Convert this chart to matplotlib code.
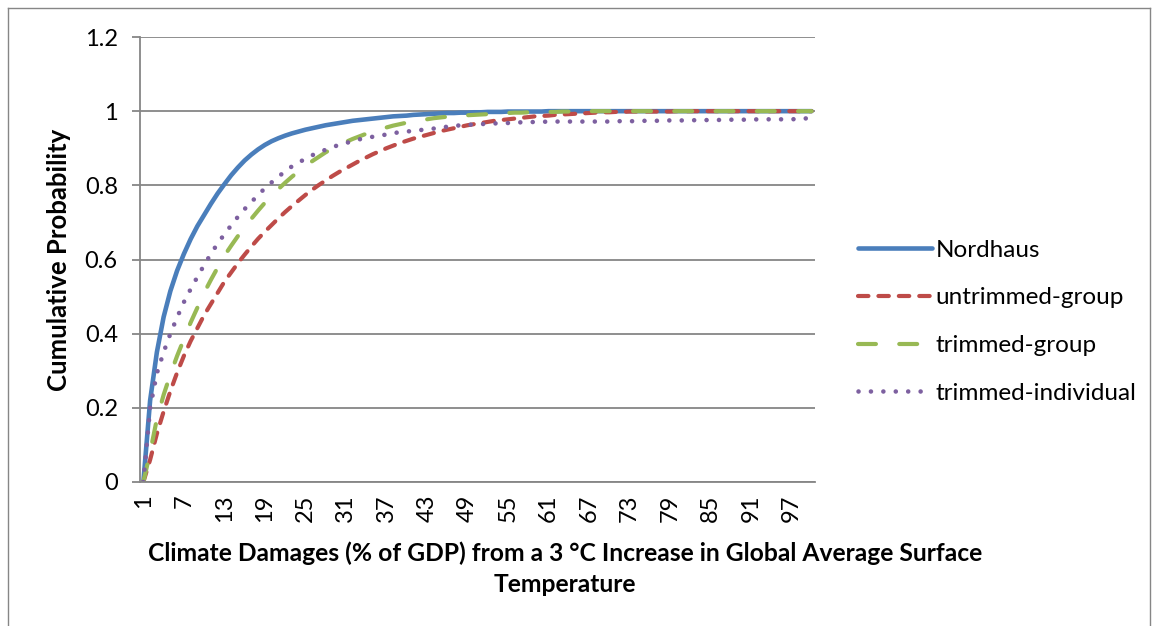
import matplotlib
matplotlib.use("Agg")
import matplotlib.pyplot as plt
from matplotlib.lines import Line2D

plt.rcParams["font.family"] = ["Lato", "DejaVu Sans"]

# Damage level categories (% of GDP)
categories = list(range(1, 101))

nordhaus = [
    0.0, 0.22, 0.35, 0.445, 0.515, 0.57, 0.615, 0.655, 0.69, 0.72,
    0.75, 0.778, 0.803, 0.827, 0.848, 0.867, 0.883, 0.897, 0.909, 0.919,
    0.927, 0.934, 0.940, 0.945, 0.950, 0.954, 0.958, 0.962, 0.965, 0.968,
    0.971, 0.974, 0.976, 0.978, 0.980, 0.982, 0.984, 0.986, 0.987, 0.988,
    0.990, 0.991, 0.992, 0.993, 0.994, 0.995, 0.995, 0.996, 0.996, 0.997,
    0.997, 0.998, 0.998, 0.998, 0.999, 0.999, 0.999, 0.999, 0.999, 0.999,
    1.0, 1.0, 1.0, 1.0, 1.0, 1.0, 1.0, 1.0, 1.0, 1.0,
    1.0, 1.0, 1.0, 1.0, 1.0, 1.0, 1.0, 1.0, 1.0, 1.0,
    1.0, 1.0, 1.0, 1.0, 1.0, 1.0, 1.0, 1.0, 1.0, 1.0,
    1.0, 1.0, 1.0, 1.0, 1.0, 1.0, 1.0, 1.0, 1.0, 1.0,
]

untrimmed_group = [
    0.0, 0.06, 0.13, 0.19, 0.245, 0.295, 0.34, 0.38, 0.415, 0.45,
    0.48, 0.51, 0.54, 0.565, 0.59, 0.613, 0.635, 0.656, 0.675, 0.693,
    0.711, 0.728, 0.744, 0.759, 0.774, 0.788, 0.801, 0.813, 0.825, 0.836,
    0.846, 0.856, 0.866, 0.875, 0.884, 0.892, 0.900, 0.907, 0.914, 0.920,
    0.926, 0.931, 0.936, 0.941, 0.946, 0.950, 0.954, 0.958, 0.962, 0.965,
    0.968, 0.971, 0.974, 0.976, 0.978, 0.980, 0.982, 0.984, 0.986, 0.987,
    0.988, 0.990, 0.991, 0.992, 0.993, 0.994, 0.995, 0.996, 0.997, 0.997,
    0.998, 0.998, 0.999, 0.999, 0.999, 0.999, 0.999, 0.999, 0.999, 1.0,
    1.0, 1.0, 1.0, 1.0, 1.0, 1.0, 1.0, 1.0, 1.0, 1.0,
    1.0, 1.0, 1.0, 1.0, 1.0, 1.0, 1.0, 1.0, 1.0, 1.0,
]

trimmed_group = [
    0.0, 0.08, 0.17, 0.235, 0.29, 0.34, 0.385, 0.43, 0.47, 0.51,
    0.545, 0.578, 0.61, 0.637, 0.663, 0.688, 0.71, 0.732, 0.753, 0.772,
    0.79, 0.807, 0.823, 0.838, 0.852, 0.865, 0.877, 0.889, 0.899, 0.908,
    0.917, 0.925, 0.932, 0.939, 0.945, 0.951, 0.956, 0.961, 0.965, 0.969,
    0.972, 0.975, 0.978, 0.981, 0.983, 0.985, 0.987, 0.988, 0.989, 0.990,
    0.991, 0.992, 0.993, 0.994, 0.995, 0.996, 0.996, 0.997, 0.997, 0.998,
    0.998, 0.998, 0.999, 0.999, 0.999, 1.0, 1.0, 1.0, 1.0, 1.0,
    1.0, 1.0, 1.0, 1.0, 1.0, 1.0, 1.0, 1.0, 1.0, 1.0,
    1.0, 1.0, 1.0, 1.0, 1.0, 1.0, 1.0, 1.0, 1.0, 1.0,
    1.0, 1.0, 1.0, 1.0, 1.0, 1.0, 1.0, 1.0, 1.0, 1.0,
]

trimmed_individual = [
    0.0, 0.20, 0.293, 0.35, 0.40, 0.444, 0.485, 0.52, 0.553, 0.585,
    0.615, 0.643, 0.668, 0.692, 0.715, 0.736, 0.755, 0.774, 0.792, 0.808,
    0.823, 0.838, 0.851, 0.862, 0.871, 0.881, 0.889, 0.896, 0.903, 0.909,
    0.914, 0.919, 0.924, 0.928, 0.931, 0.934, 0.937, 0.941, 0.943, 0.945,
    0.947, 0.949, 0.951, 0.953, 0.956, 0.958, 0.960, 0.962, 0.963, 0.964,
    0.965, 0.966, 0.967, 0.967, 0.968, 0.969, 0.970, 0.970, 0.971, 0.971,
    0.972, 0.972, 0.972, 0.972, 0.972, 0.972, 0.972, 0.972, 0.972, 0.972,
    0.973, 0.973, 0.973, 0.973, 0.974, 0.974, 0.974, 0.975, 0.975, 0.975,
    0.975, 0.975, 0.976, 0.976, 0.976, 0.976, 0.977, 0.977, 0.977, 0.977,
    0.977, 0.978, 0.978, 0.978, 0.978, 0.978, 0.978, 0.979, 0.979, 0.99,
]

series_names = ["Nordhaus", "untrimmed-group", "trimmed-group", "trimmed-individual"]
y_ticks = [0, 0.2, 0.4, 0.6, 0.8, 1.0, 1.2]
y_tick_labels = ["0", "0.2", "0.4", "0.6", "0.8", "1", "1.2"]
x_tick_labels = [str(c) for c in categories[::6]]

W, H = 1155, 626
fig = plt.figure(figsize=(W / 100, H / 100), dpi=100)

# chart-area border
for xs, ys in [([8, 8], [0, H - 8]), ([8, 1150], [H - 8, H - 8]), ([1150, 1150], [0, H - 8])]:
    fig.add_artist(Line2D([x / W for x in xs], [y / H for y in ys],
                          transform=fig.transFigure, color="#868686", lw=1.0))

left, right, top, bottom = 140, 815, 37, 482
ax = fig.add_axes([left / W, 1 - bottom / H, (right - left) / W, (bottom - top) / H])

grid_col = "#868686"
lw = 3.0
styles = [
    dict(color="#4A7EBB", lw=3.3, ls="-", solid_capstyle="round", solid_joinstyle="round"),
    dict(color="#BE4B48", lw=lw, ls=(0, (2.5, 2.4)), dash_capstyle="round"),
    dict(color="#98B954", lw=lw, ls=(0, (4.3, 5.6)), dash_capstyle="round"),
    dict(color="#7D60A0", lw=3.3, ls=(0, (0.01, 2.7)), dash_capstyle="round"),
]
data = [nordhaus, untrimmed_group, trimmed_group, trimmed_individual]
handles = []
for name, vals, st in zip(series_names, data, styles):
    h, = ax.plot(categories, vals, label=name, **st)
    handles.append(h)

ax.set_xlim(0.5, 100.5)
ax.set_ylim(0, 1.2)
ax.set_yticks(y_ticks)
ax.set_yticklabels(y_tick_labels)
ax.set_xticks(categories[::6])
ax.set_xticklabels(x_tick_labels, rotation=90, ha="center", va="top")

ax.yaxis.grid(True, color=grid_col, lw=1.3)
ax.set_axisbelow(True)
for s in ["top", "right"]:
    ax.spines[s].set_visible(False)
for s in ["left", "bottom"]:
    ax.spines[s].set_color(grid_col)
    ax.spines[s].set_linewidth(1.3)

ax.tick_params(axis="y", length=6, width=1.3, color=grid_col, pad=10, labelsize=17)
ax.tick_params(axis="x", length=0, pad=9, labelsize=17)

ax.set_ylabel("Cumulative Probability", fontsize=18.5, fontweight="bold", labelpad=10)
fig.text(565 / W, 1 - 568.5 / H,
         "Climate Damages (% of GDP) from a 3 \u00b0C Increase in Global Average Surface\nTemperature",
         ha="center", va="center", fontsize=17.7, fontweight="bold", linespacing=1.4)

leg = fig.legend(handles=handles, loc="upper left", bbox_to_anchor=(848 / W, 1 - 230 / H),
                 frameon=False, fontsize=17.5, handlelength=3.05, handletextpad=0.15,
                 labelspacing=1.1, borderaxespad=0)

fig.savefig("out.png", dpi=100)
